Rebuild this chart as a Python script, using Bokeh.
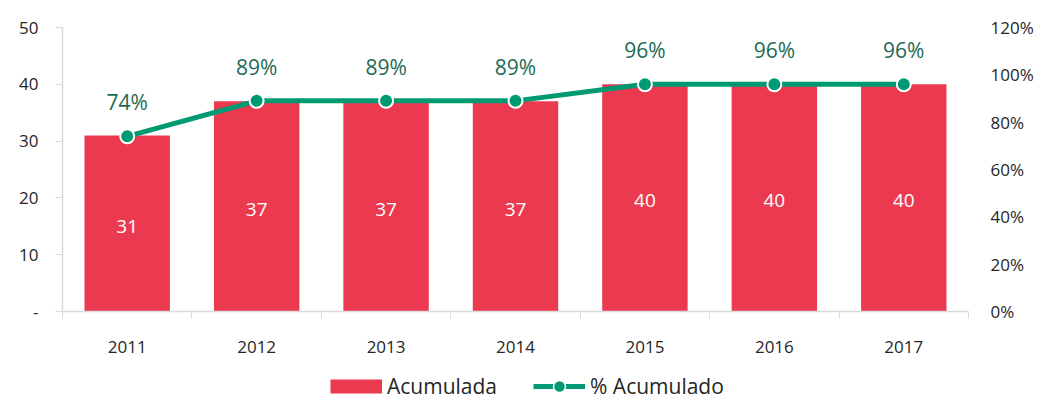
from bokeh.plotting import figure
from bokeh.layouts import column
from bokeh.models import (Range1d, LinearAxis, FixedTicker, ColumnDataSource,
                          Legend, LegendItem, PrintfTickFormatter)
from bokeh.core.properties import value
from bokeh.embed import file_html
from bokeh.resources import INLINE

years = ["2011", "2012", "2013", "2014", "2015", "2016", "2017"]
acumulada = [31, 37, 37, 37, 40, 40, 40]
pct_acumulado = [74, 89, 89, 89, 96, 96, 96]
left_ticks = [0, 10, 20, 30, 40, 50]
right_ticks = [0, 20, 40, 60, 80, 100, 120]
series_names = ["Acumulada", "% Acumulado"]

RED = "#EB3A50"
GREEN = "#009A72"
DKGREEN = "#1D6B52"
FONT = "Open Sans"

xs = [i + 0.5 for i in range(len(years))]
src = ColumnDataSource(dict(
    x=xs, acc=acumulada, half=[a / 2 for a in acumulada],
    pct=pct_acumulado,
    acc_lbl=[str(a) for a in acumulada],
    pct_lbl=[f"{p}%" for p in pct_acumulado],
))

p = figure(width=1048, height=360, output_backend="svg", toolbar_location=None,
           x_range=Range1d(0, len(years)), y_range=Range1d(0, 50),
           min_border_left=62, min_border_right=80, min_border_top=27,
           min_border_bottom=49)
p.outline_line_color = None
p.grid.visible = False
p.background_fill_color = "white"
p.border_fill_color = "white"

p.extra_y_ranges = {"pct": Range1d(0, 120)}

bars = p.vbar(x="x", top="acc", width=0.66, source=src, fill_color=RED, line_color=None)
line = p.line(x="x", y="pct", source=src, y_range_name="pct", line_color=GREEN, line_width=5)
pts = p.scatter(x="x", y="pct", source=src, y_range_name="pct", size=14,
                fill_color=GREEN, line_color="white", line_width=2)

p.text(x="x", y="half", text="acc_lbl", source=src, text_color="white",
       text_font=value(FONT), text_font_size="19px", text_align="center",
       text_baseline="middle", y_offset=3)
p.text(x="x", y="pct", text="pct_lbl", source=src, y_range_name="pct",
       text_color=DKGREEN, text_font=value(FONT), text_font_size="21px",
       text_align="center", text_baseline="middle", y_offset=-34)

# x axis
xa = p.xaxis[0]
xa.ticker = FixedTicker(ticks=xs, minor_ticks=list(range(len(years) + 1)))
xa.major_label_overrides = {x: y for x, y in zip(xs, years)}
xa.major_tick_out = 0
xa.major_tick_in = 0
xa.minor_tick_out = 7
xa.minor_tick_in = 0
xa.minor_tick_line_color = "#D9D9D9"
xa.axis_line_color = "#D9D9D9"
xa.axis_line_width = 1.5
xa.major_label_standoff = 22
xa.major_label_text_font = FONT
xa.major_label_text_font_size = "17px"
xa.major_label_text_color = "#262626"

# left axis
ya = p.yaxis[0]
ya.ticker = FixedTicker(ticks=left_ticks)
ya.major_label_overrides = {0: "-"}
ya.major_tick_out = 7
ya.major_tick_in = 0
ya.minor_tick_line_color = None
ya.major_tick_line_color = "#D9D9D9"
ya.axis_line_color = "#D9D9D9"
ya.axis_line_width = 1.5
ya.major_label_standoff = 17
ya.major_label_text_font = FONT
ya.major_label_text_font_size = "17px"
ya.major_label_text_color = "#262626"

# right axis
ra = LinearAxis(y_range_name="pct", ticker=FixedTicker(ticks=right_ticks),
                formatter=PrintfTickFormatter(format="%d%%"))
ra.axis_line_color = None
ra.major_tick_line_color = None
ra.minor_tick_line_color = None
ra.major_tick_out = 0
ra.major_label_standoff = 22
ra.major_label_text_font = FONT
ra.major_label_text_font_size = "17px"
ra.major_label_text_color = "#262626"
p.add_layout(ra, "right")

# legend strip (separate figure below the chart); proxy glyphs sit outside its range
lf = figure(width=1048, height=43, output_backend="svg", toolbar_location=None,
            x_range=Range1d(0, 1), y_range=Range1d(0, 1),
            min_border=0)
lf.axis.visible = False
lf.grid.visible = False
lf.outline_line_color = None
lf.border_fill_color = "white"
proxy = ColumnDataSource(dict(x=[-10, -9], y=[-10, -10]))
leg_bar = lf.line(x="x", y="y", source=proxy, line_color=RED, line_width=14, line_cap="butt")
leg_line = lf.line(x="x", y="y", source=proxy, line_color=GREEN, line_width=5)
leg_pt = lf.scatter(x="x", y="y", source=proxy, fill_color=GREEN,
                    line_color="white", line_width=1.5)

legend = Legend(items=[
    LegendItem(label=series_names[0], renderers=[leg_bar]),
    LegendItem(label=series_names[1], renderers=[leg_line, leg_pt]),
], orientation="horizontal", location=(268, 2))
legend.border_line_color = None
legend.background_fill_alpha = 0
legend.label_text_font = FONT
legend.label_text_font_size = "21px"
legend.label_text_color = "#262626"
legend.glyph_width = 52
legend.glyph_height = 30
legend.spacing = 36
legend.padding = 0
legend.margin = 0
legend.label_standoff = 5
lf.add_layout(legend, "center")

open("out.html", "w").write(file_html(column(p, lf, spacing=0), INLINE))
